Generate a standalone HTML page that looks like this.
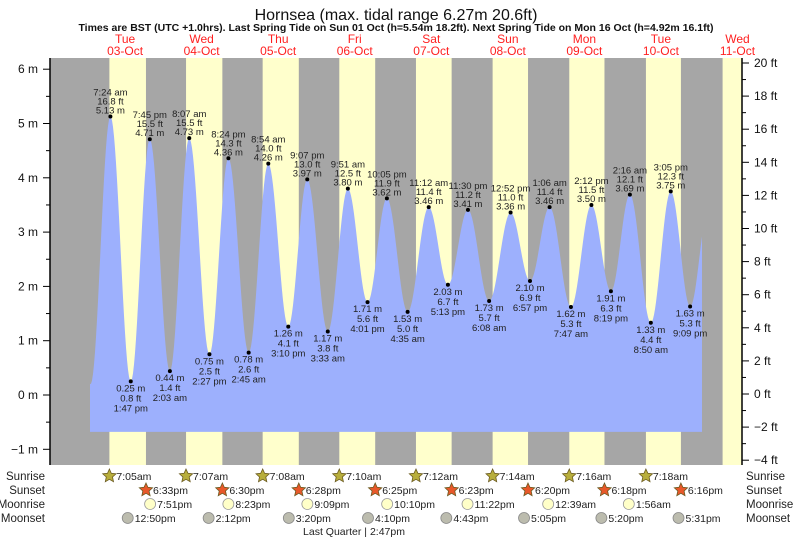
<!DOCTYPE html>
<html><head><meta charset="utf-8">
<style>
html,body{margin:0;padding:0;background:#fff;}
svg{display:block;font-family:"Liberation Sans",sans-serif;}
</style></head>
<body>
<svg id="chart" width="793" height="539" viewBox="0 0 793 539" xmlns="http://www.w3.org/2000/svg">
<text x="396" y="20" font-size="16" text-anchor="middle" fill="#111">Hornsea (max. tidal range 6.27m 20.6ft)</text>
<text x="396" y="31" font-size="10.5" font-weight="bold" text-anchor="middle" fill="#111">Times are BST (UTC +1.0hrs). Last Spring Tide on Sun 01 Oct (h=5.54m 18.2ft). Next Spring Tide on Mon 16 Oct (h=4.92m 16.1ft)</text>
<g id="bands"></g>
<path id="tide" fill="#9db0fd"/>
<g id="marks"></g>
<g id="axes"></g>
<g id="rows"></g>
<text x="354" y="535" font-size="10.5" text-anchor="middle" fill="#222">Last Quarter | 2:47pm</text>
</svg>
<script>
// ---- data ----
const dayNames = ["Tue","Wed","Thu","Fri","Sat","Sun","Mon","Tue","Wed"];
const dayDates = ["03-Oct","04-Oct","05-Oct","06-Oct","07-Oct","08-Oct","09-Oct","10-Oct","11-Oct"];
// tide extrema (day index 0 = 03-Oct), first and last are unlabelled edge extrema
const tideTime = ["1:10 am","7:24 am","1:47 pm","7:45 pm","2:03 am","8:07 am","2:27 pm","8:24 pm","2:45 am","8:54 am","3:10 pm","9:07 pm","3:33 am","9:51 am","4:01 pm","10:05 pm","4:35 am","11:12 am","5:13 pm","11:30 pm","6:08 am","12:52 pm","6:57 pm","1:06 am","7:47 am","2:12 pm","8:19 pm","2:16 am","8:50 am","3:05 pm","9:09 pm","3:00 am"];
const tideHeight = [0.2,5.13,0.25,4.71,0.44,4.73,0.75,4.36,0.78,4.26,1.26,3.97,1.17,3.80,1.71,3.62,1.53,3.46,2.03,3.41,1.73,3.36,2.10,3.46,1.62,3.50,1.91,3.69,1.33,3.75,1.63,3.45];
const tideDayFix = [0,0,0,0,1,1,1,1,2,2,2,2,3,3,3,3,4,4,4,4,5,5,5,6,6,6,6,7,7,7,7,8];
const sunrise = ["7:05am","7:07am","7:08am","7:10am","7:12am","7:14am","7:16am","7:18am","7:20am"];
const sunset = ["6:33pm","6:30pm","6:28pm","6:25pm","6:23pm","6:20pm","6:18pm","6:16pm","6:14pm"];
const moonriseDay = [0,1,2,3,4,6,7];
const moonrise = ["7:51pm","8:23pm","9:09pm","10:10pm","11:22pm","12:39am","1:56am"];
const moonsetDay = [0,1,2,3,4,5,6,7];
const moonset = ["12:50pm","2:12pm","3:20pm","4:10pm","4:43pm","5:05pm","5:20pm","5:31pm"];
const mTicks = [-1,0,1,2,3,4,5,6];
const ftTicks = [-4,-2,0,2,4,6,8,10,12,14,16,18,20];

// ---- scales ----
const X0 = 86.8, PXD = 76.55, L = 50, R = 742, T = 58, B = 465;
function hrs(s){const m=s.match(/(\d+):(\d+)\s*(am|pm)/);let h=+m[1]%12;if(m[3]==="pm")h+=12;return h+ +m[2]/60;}
function xT(d,s){return X0+(d+hrs(s)/24)*PXD;}
function yM(m){return 395-m*54.3;}
function yF(f){return 394-f*16.55;}
const NS="http://www.w3.org/2000/svg";
function el(tag,attrs,parent,txt){const e=document.createElementNS(NS,tag);for(const k in attrs)e.setAttribute(k,attrs[k]);if(txt!==undefined)e.textContent=txt;parent.appendChild(e);return e;}

// ---- day/night bands ----
const bands=document.getElementById('bands');
let r=el('rect',{x:L,y:T,width:R-L,height:B-T,fill:'#a6a6a6'},bands);


for(let d=0;d<9;d++){
  const x1=xT(d,sunrise[d]); let x2=Math.min(xT(d,sunset[d]),R);
  const b=el('rect',{x:x1,y:T,width:Math.max(0,x2-x1),height:B-T,fill:'#ffffcc'},bands);
  
  
  const cx=X0+(d+0.5)*PXD;
  const t1=el('text',{x:cx,y:43,'font-size':12,'text-anchor':'middle',fill:'#ff2020'},bands,dayNames[d]);
  
  
  const t2=el('text',{x:cx,y:55,'font-size':12,'text-anchor':'middle',fill:'#ff2020'},bands,dayDates[d]);
  
  
}

// ---- tide curve ----
const tx=tideHeight.map((h,i)=>xT(tideDayFix[i],tideTime[i]));
const xStart=90, xEnd=702, yBot=yM(-0.68);
let pts=[];
for(let x=xStart;x<=xEnd;x+=1){
  let i=0; while(i<tx.length-2 && tx[i+1]<x) i++;
  let f=(x-tx[i])/(tx[i+1]-tx[i]); f=Math.max(0,Math.min(1,f));
  const h=tideHeight[i]+(tideHeight[i+1]-tideHeight[i])*(1-Math.cos(Math.PI*f))/2;
  pts.push(x.toFixed(1)+','+yM(h).toFixed(1));
}
document.getElementById('tide').setAttribute('d','M'+xStart+','+yBot+' L'+pts.join(' L')+' L'+xEnd+','+yBot+' Z');

// ---- extrema markers ----
const marks=document.getElementById('marks');
for(let i=1;i<tideHeight.length-1;i++){
  const x=tx[i], y=yM(tideHeight[i]);
  const high=tideHeight[i]>tideHeight[i-1];
  const dot=el('circle',{cx:x,cy:y,r:2,fill:'#000'},marks);
  
  
  const ft=(tideHeight[i]*3.2808).toFixed(1)+' ft', m=tideHeight[i].toFixed(2)+' m';
  const lines=high?[[tideTime[i],y-21],[ft,y-12],[m,y-3]]:[[m,y+10],[ft,y+20],[tideTime[i],y+30]];
  for(const [s,yy] of lines){
    const t=el('text',{x:x,y:yy,'font-size':9.5,'text-anchor':'middle',fill:'#222'},marks,s);
    
    
  }
}

// ---- axes ----
const ax=document.getElementById('axes');
el('line',{x1:L,y1:T,x2:L,y2:B,stroke:'#000','stroke-width':1.5},ax);
el('line',{x1:R,y1:T,x2:R,y2:B,stroke:'#000','stroke-width':1.5},ax);
for(const m of mTicks){
  el('line',{x1:L-7,y1:yM(m),x2:L,y2:yM(m),stroke:'#000'},ax);
  if(m<6) el('line',{x1:L-4,y1:yM(m+0.5),x2:L,y2:yM(m+0.5),stroke:'#000'},ax);
  const t=el('text',{x:L-12,y:yM(m)+4,'font-size':12,'text-anchor':'end',fill:'#111'},ax,(m<0?'\u2212'+(-m):m)+' m');
  
  
}
for(const f of ftTicks){
  el('line',{x1:R,y1:yF(f),x2:R+7,y2:yF(f),stroke:'#000'},ax);
  if(f<20) el('line',{x1:R,y1:yF(f+1),x2:R+4,y2:yF(f+1),stroke:'#000'},ax);
  const t=el('text',{x:R+12,y:yF(f)+4,'font-size':12,fill:'#111'},ax,(f<0?'\u2212'+(-f):f)+' ft');
  
  
}

// ---- sun & moon rows ----
const rows=document.getElementById('rows');
const rowY=[476,490,504,518], rowNames=['Sunrise','Sunset','Moonrise','Moonset'];
rowNames.forEach((n,i)=>{
  const a=el('text',{x:45,y:rowY[i]+4,'font-size':11.5,'text-anchor':'end',fill:'#222'},rows,n);
  
  
  const b=el('text',{x:746,y:rowY[i]+4,'font-size':11.5,fill:'#222'},rows,n);
  
  
});
function star(cx,cy,fill){let p=[];for(let k=0;k<10;k++){const a=-Math.PI/2+k*Math.PI/5,rr=k%2?3.3:7;p.push((cx+rr*Math.cos(a)).toFixed(1)+','+(cy+rr*Math.sin(a)).toFixed(1));}
  const s=el('polygon',{points:p.join(' '),fill:fill,stroke:'#6a5a20','stroke-width':0.8},rows);return s;}
function lab(x,y,s){const t=el('text',{x:x+7,y:y+4,'font-size':10.5,fill:'#222'},rows,s);return t;}
for(let d=0;d<8;d++){
  let x=xT(d,sunrise[d]);
  let s=star(x,rowY[0],'#b8ae3c');
  
  
  let t=lab(x,rowY[0],sunrise[d]);
  
  
  x=xT(d,sunset[d]);
  s=star(x,rowY[1],'#e8582a');
  
  
  t=lab(x,rowY[1],sunset[d]);
  
  
}
moonrise.forEach((v,i)=>{
  const x=xT(moonriseDay[i],v);
  const c=el('circle',{cx:x,cy:rowY[2],r:5.5,fill:'#ffffc8',stroke:'#999','stroke-width':0.8},rows);
  
  
  const t=lab(x,rowY[2],v);
  
  
});
moonset.forEach((v,i)=>{
  const x=xT(moonsetDay[i],v);
  const c=el('circle',{cx:x,cy:rowY[3],r:5.5,fill:'#bcbcae',stroke:'#888','stroke-width':0.8},rows);
  
  
  const t=lab(x,rowY[3],v);
  
  
});
</script>
</body></html>
